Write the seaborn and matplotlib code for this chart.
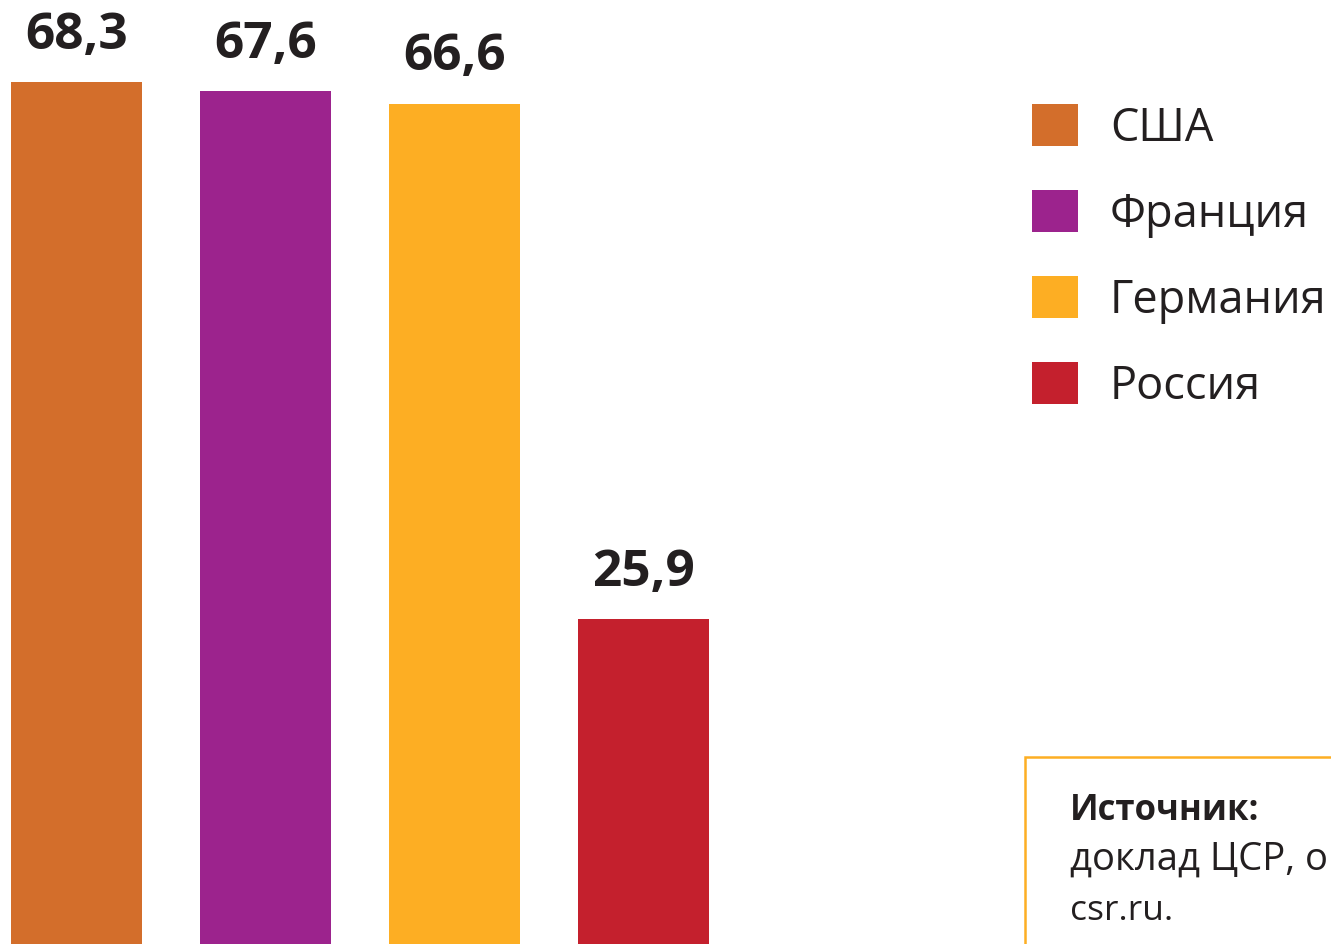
import matplotlib
matplotlib.use("Agg")
import matplotlib.pyplot as plt
import seaborn as sns
from matplotlib.patches import Rectangle

# -- Data ----------------------------------------------------------------------
countries = ['США', 'Франция', 'Германия', 'Россия']
values = [68.3, 67.6, 66.6, 25.9]
colors = ['#D36E2B', '#9C238D', '#FDAE23', '#C4202D']
source_title = 'Источник:'
source_lines = ['доклад ЦСР, октябрь 2017 г.', 'csr.ru.']

TEXT = '#231F20'
W, H = 1331, 944

sns.set_theme(style='white')
plt.rcParams['font.family'] = ['Open Sans', 'DejaVu Sans']

fig = plt.figure(figsize=(W / 100, H / 100), dpi=100)
fig.patch.set_facecolor('white')

# axes placed in pixels: bars start at the left edge, baseline just below the picture
ax = fig.add_axes([0, -3 / H, 760 / W, 947 / H])
sns.barplot(x=countries, y=values, hue=countries, palette=colors,
            saturation=1, width=131 / 189, linewidth=0, legend=True, ax=ax)
ax.set_xlim(-76.5 / 189, (760 - 76.5) / 189)
ax.set_ylim(0, 947 / 12.665)
ax.axis('off')

# -- Value labels --------------------------------------------------------------
for i, v in enumerate(values):
    ax.annotate(f'{v:.1f}'.replace('.', ','), (i, v), xytext=(0, 24),
                textcoords='offset points', ha='center', va='baseline',
                fontsize=37, fontweight='bold', color=TEXT)

# -- Legend --------------------------------------------------------------------
sns.move_legend(ax, loc='upper left', bbox_to_anchor=(1032 / W, 1 - 104 / H),
                bbox_transform=fig.transFigure, frameon=False, title=None,
                fontsize=32.5, handlelength=1.01, handleheight=1.07,
                handletextpad=0.72, labelspacing=0.85, borderpad=0,
                borderaxespad=0)
for t in ax.get_legend().get_texts():
    t.set_color(TEXT)

# -- Source box ----------------------------------------------------------------
fig.patches.append(Rectangle((1025 / W, -0.1), 0.5, 1.1 - 757 / H,
                             transform=fig.transFigure, fill=False,
                             edgecolor='#FDAE23', linewidth=1.8))
fig.text(1070 / W, 1 - 820 / H, source_title, fontsize=25, fontweight='bold',
         color=TEXT, va='baseline')
for k, (line, size) in enumerate(zip(source_lines, [27.5, 25.5])):
    fig.text(1070 / W, 1 - (870 + 50 * k) / H, line, fontsize=size,
             color=TEXT, va='baseline')

fig.savefig('out.png', dpi=100)
